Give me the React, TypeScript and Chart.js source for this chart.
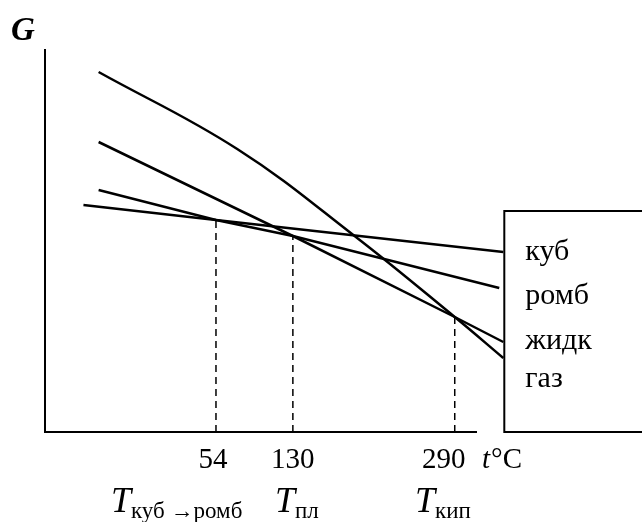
import React, { useEffect, useRef } from "react";
import { Chart, registerables } from "chart.js";

Chart.register(...registerables);

// ---- data ----
const transitionT = [54, 130, 290];
const transitionG = [212, 196, 115];
const tickLabels = ["54", "130", "290"];
const transitionSubs = ["куб →ромб", "пл", "кип"];
const phaseLabels = ["куб", "ромб", "жидк", "газ"];

const kubT = [-77, 54, 338];
const kubG = [227, 212, 180];
const rombT = [-62, 54, 130, 334];
const rombG = [242, 212, 196, 144];
const zhidkT = [-62, 130, 290, 338];
const zhidkG = [290, 196, 115, 90];
const gazT = [-62, 75, 191, 290, 338];
const gazG = [360, 283, 196, 115, 74];

const xMin = -115;
const xMax = 312;
const yMin = 0;
const yMax = 383;

const SERIF = '"Liberation Serif", "Times New Roman", serif';

const toPts = (xs: number[], ys: number[]) => xs.map((x, i) => ({ x, y: ys[i] }));

const overlay = {
  id: "overlay",
  afterDraw(chart: any) {
    const { ctx, chartArea, scales } = chart;
    const xs = scales.x;
    const { left, top, right, bottom } = chartArea;
    ctx.save();
    ctx.strokeStyle = "#000";
    ctx.fillStyle = "#000";
    // axes
    ctx.lineWidth = 2;
    ctx.beginPath();
    ctx.moveTo(left, top);
    ctx.lineTo(left, bottom);
    ctx.lineTo(right, bottom);
    ctx.stroke();

    // legend box
    const boxLeft = xs.getPixelForValue(kubT[kubT.length - 1]) + 1;
    ctx.lineWidth = 2;
    ctx.strokeRect(boxLeft, 211, 300, bottom - 211);
    ctx.font = `30px ${SERIF}`;
    ctx.textAlign = "left";
    ctx.textBaseline = "alphabetic";
    const baselines = [260, 304, 349, 387];
    phaseLabels.forEach((l, i) => ctx.fillText(l, boxLeft + 21, baselines[i]));

    // G label
    ctx.font = `italic bold 33px ${SERIF}`;
    ctx.fillText("G", 11, 40);

    // tick labels
    const nudge = [-3, 0, -11];
    ctx.font = `29px ${SERIF}`;
    ctx.textAlign = "center";
    tickLabels.forEach((l, i) => {
      ctx.fillText(l, xs.getPixelForValue(transitionT[i]) + nudge[i], 468);
    });
    // t°C
    ctx.textAlign = "left";
    ctx.font = `italic 29px ${SERIF}`;
    ctx.fillText("t", 482, 468);
    const tw = ctx.measureText("t").width;
    ctx.font = `29px ${SERIF}`;
    ctx.fillText("°C", 482 + tw + 1, 468);

    // T labels
    const tLeft = [111, 275, 415];
    tLeft.forEach((x0, i) => {
      ctx.font = `italic 36px ${SERIF}`;
      ctx.fillText("T", x0, 512);
      const w = ctx.measureText("T").width;
      ctx.font = `23px ${SERIF}`;
      ctx.fillText(transitionSubs[i], x0 + w, 518);
    });
    ctx.restore();
  },
};

export default function App() {
  const ref = useRef<HTMLCanvasElement>(null);
  useEffect(() => {
    document.body.style.margin = "0";
    const line = (data: any, extra: any = {}) => ({
      data,
      borderColor: "#000",
      borderWidth: 2.5,
      pointRadius: 0,
      fill: false,
      clip: false,
      ...extra,
    });
    const dashed = transitionT.map((t, i) =>
      line(toPts([t, t], [yMin, transitionG[i]]), { borderWidth: 1.5, borderDash: [7, 5] })
    );
    const chart = new Chart(ref.current!, {
      type: "line",
      data: {
        datasets: [
          line(toPts(kubT, kubG)),
          line(toPts(rombT, rombG)),
          line(toPts(zhidkT, zhidkG)),
          line(toPts(gazT, gazG), { tension: 0.4 }),
          ...dashed,
        ] as any,
      },
      options: {
        animation: false,
        responsive: false,
        layout: { padding: { left: 45, top: 49, right: 165, bottom: 90 } },
        plugins: { legend: { display: false }, tooltip: { enabled: false } },
        scales: {
          x: { type: "linear", min: xMin, max: xMax, display: false },
          y: { type: "linear", min: yMin, max: yMax, display: false },
        },
      },
      plugins: [overlay],
    });
    return () => chart.destroy();
  }, []);
  return (
    <div style={{ position: "absolute", left: 0, top: 0, width: 642, height: 522, background: "#fff" }}>
      <canvas ref={ref} width={642} height={522} />
    </div>
  );
}
